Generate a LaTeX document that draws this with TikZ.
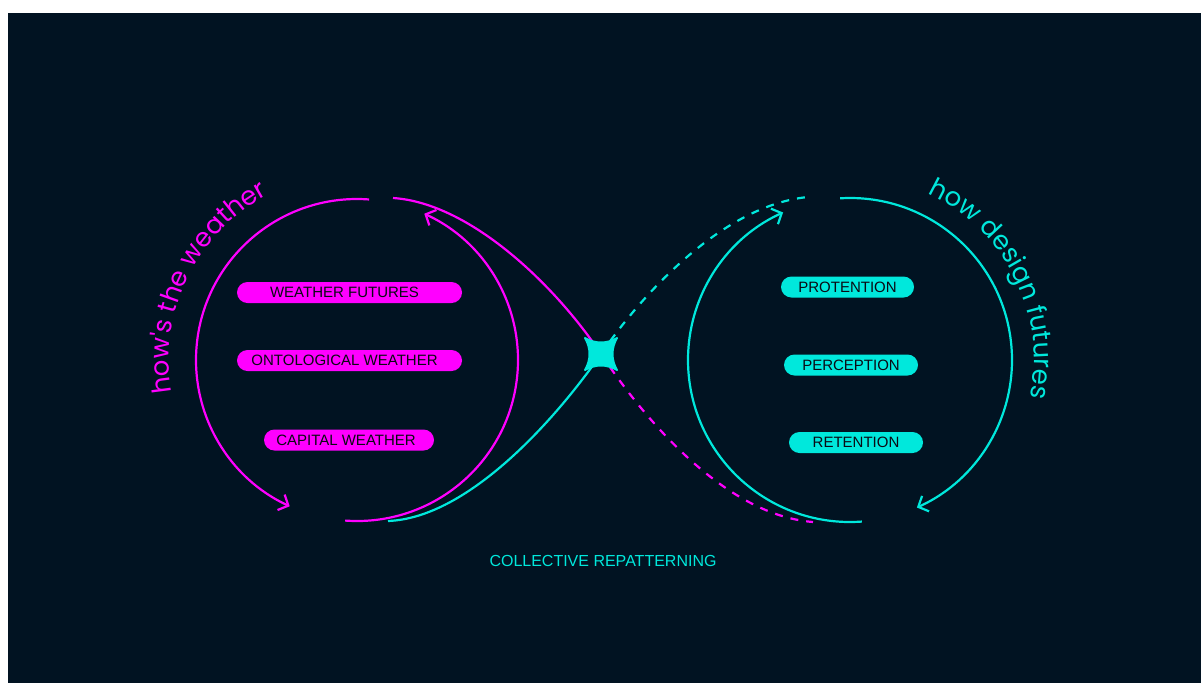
\documentclass[tikz,border=0pt]{standalone}
\usepackage{fontspec}
\setmainfont{Liberation Sans}
\newfontfamily\arcfont{Poppins}
\usetikzlibrary{arrows.meta,calc,decorations.text}
\definecolor{night}{HTML}{011322}
\definecolor{mag}{HTML}{FF00FF}
\definecolor{cya}{HTML}{00E8DC}
\definecolor{ink}{HTML}{0A0A14}
\begin{document}
\begin{tikzpicture}[x=1pt,y=1pt,
  loop/.style={line width=2.2pt},
  dashline/.style={line width=2.2pt, dash pattern=on 8pt off 8pt},
  tip/.style={-{Straight Barb[length=8pt,width=17pt]}},
  pill/.style={rounded corners=10.5pt, minimum height=21pt, inner sep=0pt,
    font=\fontsize{15}{15}\selectfont, text=ink},
]
\useasboundingbox (0,0) rectangle (1201,-683);
\fill[white] (0,0) rectangle (1201,-683);
\fill[night] (8,-13) rectangle (1201,-683);

% loop centres, crossing point and free ends of the figure eight
\coordinate (L) at (357,-360);
\coordinate (R) at (850,-360);
\coordinate (X) at (601,-354);
\coordinate (mA) at (393,-198);
\coordinate (mB) at (813,-522);
\coordinate (cA) at (388,-521);
\coordinate (cB) at (808,-197);

% left loop (magenta)
\draw[loop, mag, tip] ($(L)+(85.7:161)$) arc[start angle=85.7, end angle=245.3, radius=161];
\draw[loop, mag, tip] ($(L)+(265.8:161)$) arc[start angle=265.8, end angle=425.3, radius=161];

% right loop (cyan)
\draw[loop, cya, tip] ($(R)+(93.5:162)$) arc[start angle=93.5, end angle=-65.6, radius=162];
\draw[loop, cya, tip] ($(R)+(274.2:162)$) arc[start angle=274.2, end angle=114.4, radius=162];

% figure eight strands
\draw[loop, mag] (mA) .. controls (470,-203) and (555,-285) .. (X);
\draw[dashline, mag] (X) .. controls (645,-420) and (725,-515) .. (mB);
\draw[loop, cya] (cA) .. controls (468,-518) and (555,-420) .. (X);
\draw[dashline, cya] (X) .. controls (645,-290) and (725,-205) .. (cB);

% four-pointed star at the crossing, with blunted tips
\filldraw[cya, line width=2pt, line join=round, shift={(X)}]
  (-16,16) .. controls (-6,10) and (6,10) .. (16,16)
  .. controls (10,6) and (10,-6) .. (16,-16)
  .. controls (6,-10) and (-6,-10) .. (-16,-16)
  .. controls (-10,-6) and (-10,6) .. cycle;

% labels in the loops
\node[pill, fill=mag, minimum width=225pt] (wf) at (349.5,-292.5) {\hspace*{-10pt}WEATHER FUTURES};
\node[pill, fill=mag, minimum width=225pt] (ow) at (349.5,-360.5) {\hspace*{-10pt}ONTOLOGICAL WEATHER};
\node[pill, fill=mag, minimum width=170pt] (cw) at (349,-440) {\hspace*{-6pt}CAPITAL WEATHER};
\node[pill, fill=cya, minimum width=133pt] (pr) at (847.5,-287) {PROTENTION};
\node[pill, fill=cya, minimum width=134pt] (pe) at (851,-365) {PERCEPTION};
\node[pill, fill=cya, minimum width=134pt] (re) at (856,-442.5) {RETENTION};

\node[text=cya, font=\fontsize{16}{16}\selectfont] (cr) at (603,-561) {COLLECTIVE REPATTERNING};

% curved titles
\path[decorate, decoration={text along path, text align=left, text color=mag,
  text={|\arcfont\fontsize{26}{26}\selectfont|how's the weather}}]
  ($(L)+(190:188)$) arc[start angle=190, end angle=95, radius=188];
\path[decorate, decoration={text along path, text align=left, text color=cya,
  text={|\arcfont\fontsize{26}{26}\selectfont|how design futures}}]
  ($(R)+(65:184)$) arc[start angle=65, end angle=-30, radius=184];
\end{tikzpicture}
\end{document}
